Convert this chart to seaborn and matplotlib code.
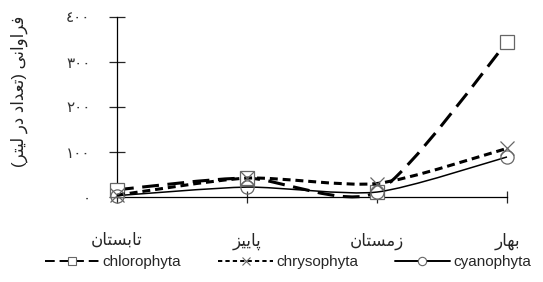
import numpy as np
import matplotlib
matplotlib.use("Agg")
import matplotlib.pyplot as plt
from matplotlib.path import Path
from matplotlib.patches import PathPatch
from matplotlib.lines import Line2D
import seaborn as sns

# data (number per litre)
seasons = ["تابستان", "پاییز", "زمستان", "بهار"]
chlorophyta = [16, 42, 11, 344]
chrysophyta = [4, 42, 30, 108]
cyanophyta = [3, 22, 11, 89]
y_ticks = [0, 100, 200, 300, 400]
y_label = "فراوانی (تعداد در لیتر)"

# minimal arabic/persian shaping (matplotlib has no bidi / joining)
FORMS = {
    "ا": ("\uFE8D", "\uFE8E", None, None),
    "ب": ("\uFE8F", "\uFE90", "\uFE91", "\uFE92"),
    "پ": ("\uFB56", "\uFB57", "\uFB58", "\uFB59"),
    "ت": ("\uFE95", "\uFE96", "\uFE97", "\uFE98"),
    "د": ("\uFEA9", "\uFEAA", None, None),
    "ر": ("\uFEAD", "\uFEAE", None, None),
    "ز": ("\uFEAF", "\uFEB0", None, None),
    "س": ("\uFEB1", "\uFEB2", "\uFEB3", "\uFEB4"),
    "ع": ("\uFEC9", "\uFECA", "\uFECB", "\uFECC"),
    "ف": ("\uFED1", "\uFED2", "\uFED3", "\uFED4"),
    "ل": ("\uFEDD", "\uFEDE", "\uFEDF", "\uFEE0"),
    "م": ("\uFEE1", "\uFEE2", "\uFEE3", "\uFEE4"),
    "ن": ("\uFEE5", "\uFEE6", "\uFEE7", "\uFEE8"),
    "ه": ("\uFEE9", "\uFEEA", "\uFEEB", "\uFEEC"),
    "و": ("\uFEED", "\uFEEE", None, None),
    "ی": ("\uFBFC", "\uFBFD", "\uFBFE", "\uFBFF"),
}


def shape(text):
    out = []
    for i, ch in enumerate(text):
        if ch not in FORMS:
            out.append(ch)
            continue
        prev = text[i - 1] if i > 0 else ""
        nxt = text[i + 1] if i + 1 < len(text) else ""
        join_prev = prev in FORMS and FORMS[prev][2] is not None
        join_next = FORMS[ch][2] is not None and nxt in FORMS
        iso, fin, ini, med = FORMS[ch]
        if join_prev and join_next:
            out.append(med)
        elif join_prev:
            out.append(fin)
        elif join_next:
            out.append(ini)
        else:
            out.append(iso)
    mirror = {"(": ")", ")": "("}
    return "".join(mirror.get(c, c) for c in reversed(out))


def fa_digits(n):
    return "".join(chr(0x0660 + int(d)) for d in str(n))


def smooth_path(xs, ys, k=0.12):
    # bezier smoothing like the spreadsheet "smoothed line" option
    pts = np.column_stack([xs, ys]).astype(float)
    verts = [pts[0]]
    codes = [Path.MOVETO]
    n = len(pts)
    for i in range(n - 1):
        p0 = pts[i - 1] if i > 0 else pts[i]
        p1, p2 = pts[i], pts[i + 1]
        p3 = pts[i + 2] if i + 2 < n else pts[i + 1]
        verts += [p1 + (p2 - p0) * k, p2 - (p3 - p1) * k, p2]
        codes += [Path.CURVE4] * 3
    return Path(verts, codes)


sns.set_style("white")
plt.rcParams["font.family"] = ["Liberation Sans", "DejaVu Sans"]

fig = plt.figure(figsize=(5.43, 2.82), dpi=100)
ax = fig.add_axes([117 / 543, 85 / 282, 390 / 543, 180 / 282])

x = np.arange(len(seasons))
series = [
    ("chlorophyta", chlorophyta, "s", 2.2, (0, (5.5, 2.8)), "white"),
    ("chrysophyta", chrysophyta, "x", 2.2, (0, (2.6, 1.6)), "none"),
    ("cyanophyta", cyanophyta, "o", 1.1, "solid", "none"),
]
handles = []
for j, (name, vals, mk, lw, ls, fc) in enumerate(series):
    patch = PathPatch(smooth_path(x, vals), facecolor="none", edgecolor="black",
                      linewidth=lw, linestyle=ls, clip_on=False, zorder=3 + 2 * j)
    ax.add_patch(patch)
    sns.lineplot(x=x, y=vals, ax=ax, marker=mk, markersize=9.5, linestyle="none",
                 markerfacecolor=fc, markeredgecolor="#666666",
                 markeredgewidth=0.9, color="#666666", clip_on=False, zorder=4 + 2 * j)
    hls = (0, (5, 2.5)) if mk == "s" else ((0, (2.2, 1.6)) if mk == "x" else "solid")
    handles.append(Line2D([], [], color="black", linewidth=1.4, linestyle=hls,
                          marker=mk, markersize=6, markerfacecolor="white",
                          markeredgecolor="#666666", markeredgewidth=0.8, label=name))

ax.set_xlim(0, 3)
ax.set_ylim(0, 400)
sns.despine(ax=ax)
for s in ["left", "bottom"]:
    ax.spines[s].set_linewidth(0.9)
    ax.spines[s].set_color("black")

ax.set_xticks(x)
ax.set_xticklabels([shape(s) for s in seasons], fontsize=12)
ax.set_yticks(y_ticks)
ax.set_yticklabels([fa_digits(v) for v in y_ticks], fontsize=11, color="#333333")
ax.tick_params(axis="y", direction="inout", length=12, width=0.9, pad=13, left=True)
ax.tick_params(axis="x", direction="inout", length=9, width=0.9, pad=21, bottom=True)
ax.set_xlabel("")
ax.set_ylabel("")
ax.grid(False)

fig.text(19 / 543, 1 - 91 / 282, shape(y_label), rotation=90, ha="center", va="center",
         fontsize=12, color="#222222")

fig.legend(handles=handles, loc="center", bbox_to_anchor=(0.53, 20 / 282), ncol=3,
           frameon=False, fontsize=11, handlelength=3.6, handletextpad=0.2,
           columnspacing=2.4, borderaxespad=0)

fig.savefig("out.png", dpi=100)
